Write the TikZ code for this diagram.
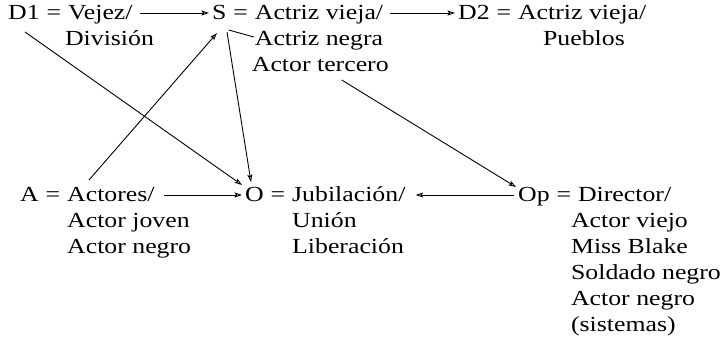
\documentclass[tikz,border=0pt]{standalone}
\usepackage{fontspec}
\setmainfont{Liberation Serif}[FakeStretch=1.2]
\usetikzlibrary{arrows.meta,calc}
\begin{document}
\begin{tikzpicture}[x=1pt,y=-1pt,
  txt/.style={anchor=base west,inner sep=0pt,font=\fontsize{21.5}{25}\selectfont},
  arr/.style={-{Stealth[open,length=7.5pt,width=5pt,inset=1.5pt]},line width=0.9pt},
  ln/.style={line width=0.9pt}]
\useasboundingbox (0,0) rectangle (725,352);
% ---- top row
\node[txt] (d1) at (8,20) {D1};
\node[txt] (d1e) at ($(d1.base east)+(6.5,0)$) {=};
\node[txt] (d1r) at ($(d1e.base east)+(6.5,0)$) {Vejez/};
\node[txt] (d1b) at ($(d1r.base west)+(-3,26)$) {División};
\node[txt] (s) at (212,20) {S};
\node[txt] (se) at ($(s.base east)+(6.5,0)$) {=};
\node[txt] (sr) at ($(se.base east)+(6.5,0)$) {Actriz vieja/};
\node[txt] (s2) at ($(sr.base west)+(0,26)$) {Actriz negra};
\node[txt] (s3) at ($(sr.base west)+(-3,52)$) {Actor tercero};
\node[txt] (d2) at (458,20) {D2};
\node[txt] (d2e) at ($(d2.base east)+(6.5,0)$) {=};
\node[txt] (d2r) at ($(d2e.base east)+(6.5,0)$) {Actriz vieja/};
\node[txt] (d2b) at ($(d2r.base west)+(25,26)$) {Pueblos};
% ---- bottom row
\node[txt] (a) at (20,202) {A};
\node[txt] (ae) at ($(a.base east)+(6.5,0)$) {=};
\node[txt] (ar) at ($(ae.base east)+(6.5,0)$) {Actores/};
\node[txt] (a2) at ($(ar.base west)+(0,26)$) {Actor joven};
\node[txt] (a3) at ($(ar.base west)+(0,52)$) {Actor negro};
\node[txt] (o) at (245,202) {O};
\node[txt] (oe) at ($(o.base east)+(6.5,0)$) {=};
\node[txt] (ort) at ($(oe.base east)+(6.5,0)$) {Jubilación/};
\node[txt] (o2) at ($(ort.base west)+(0,26)$) {Unión};
\node[txt] (o3) at ($(ort.base west)+(0,52)$) {Liberación};
\node[txt] (op) at (518,202) {Op};
\node[txt] (ope) at ($(op.base east)+(6.5,0)$) {=};
\node[txt] (opr) at ($(ope.base east)+(6.5,0)$) {Director/};
\node[txt] (op2) at ($(opr.base west)+(-7,26)$) {Actor viejo};
\node[txt] (op3) at ($(opr.base west)+(-7,52)$) {Miss Blake};
\node[txt] (op4) at ($(opr.base west)+(-7,78)$) {Soldado negro};
\node[txt] (op5) at ($(opr.base west)+(-7,104)$) {Actor negro};
\node[txt] (op6) at ($(opr.base west)+(-7,130)$) {(sistemas)};
% ---- connectors
\draw[arr] ($(d1r.base east)+(7,-7)$) -- ($(s.base west)+(-3,-7)$);
\draw[arr] ($(sr.base east)+(7,-7)$) -- ($(d2.base west)+(-3,-7)$);
\draw[arr] ($(ar.base east)+(9,-7)$) -- ($(o.base west)+(-3,-7)$);
\draw[arr] ($(op.base west)+(-4,-7)$) -- ($(ort.base east)+(10,-7)$);
\draw[arr] ($(d1.base west)+(17,12)$) -- ($(o.base west)+(-3,-17)$);
\draw[arr] ($(ar.base west)+(22,-22)$) -- ($(s.base west)+(5,13)$);
\draw[arr] ($(s.base west)+(15,12)$) -- ($(o.base west)+(6,-20)$);
\draw[ln] ($(s.base east)+(2,10)$) -- ($(s2.base west)+(-1,-9)$);
\draw[arr] ($(s3.base west)+(90,8)$) -- ($(op.base west)+(-2,-15)$);
\end{tikzpicture}
\end{document}
